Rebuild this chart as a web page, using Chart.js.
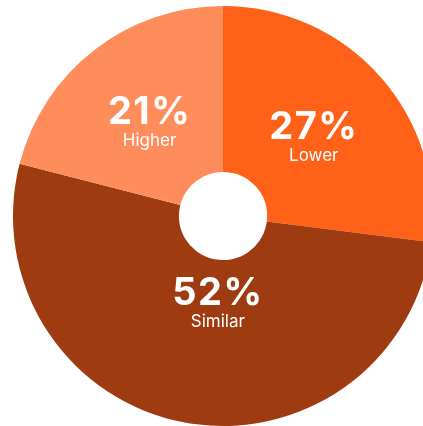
<!DOCTYPE html>
<html>
<head>
<meta charset="utf-8">
<script src="https://cdn.jsdelivr.net/npm/chart.js@4"></script>
<style>
  html, body { margin: 0; padding: 0; background: #fff; overflow: hidden; }
  #wrap { position: absolute; left: 0; top: 0; width: 446px; height: 432px; }
</style>
</head>
<body>
<div id="wrap"><canvas id="chart"></canvas></div>
<script>
const categories = ["Lower", "Similar", "Higher"];
const shares = [27, 52, 21];
const sliceColors = ["#FF6118", "#9E3B10", "#FF8C5B"];

// labels sit inside each slice: percent on top, category name below
const sliceLabels = {
  id: "sliceLabels",
  afterDatasetsDraw(chart, args, opts) {
    const ctx = chart.ctx;
    const meta = chart.getDatasetMeta(0);
    meta.data.forEach((arc, i) => {
      const p = arc.getProps(["x", "y", "startAngle", "endAngle", "innerRadius", "outerRadius"], true);
      const mid = (p.startAngle + p.endAngle) / 2 + (opts.angleShift[i] * Math.PI / 180);
      const r = p.innerRadius + (p.outerRadius - p.innerRadius) * opts.depth[i];
      const x = p.x + Math.cos(mid) * r;
      const y = p.y + Math.sin(mid) * r;
      ctx.save();
      ctx.fillStyle = "#fff";
      ctx.textAlign = "center";
      ctx.textBaseline = "middle";
      ctx.font = "700 38px Inter";
      ctx.letterSpacing = "1.5px";
      ctx.fillText(shares[i] + "%", x, y);
      ctx.font = "400 17px Inter";
      ctx.letterSpacing = "0px";
      ctx.fillText(categories[i], x, y + 29);
      ctx.restore();
    });
  }
};

new Chart(document.getElementById("chart"), {
  type: "doughnut",
  data: {
    labels: categories,
    datasets: [{
      data: shares,
      backgroundColor: sliceColors,
      hoverBackgroundColor: sliceColors,
      borderWidth: 0
    }]
  },
  options: {
    responsive: true,
    maintainAspectRatio: false,
    animation: false,
    cutout: "21%",
    layout: { padding: 6 },
    plugins: {
      legend: { display: false },
      tooltip: { enabled: false },
      sliceLabels: { depth: [0.5, 0.2, 0.5], angleShift: [-3, -7, 2.5] }
    }
  },
  plugins: [sliceLabels]
});
</script>
</body>
</html>
